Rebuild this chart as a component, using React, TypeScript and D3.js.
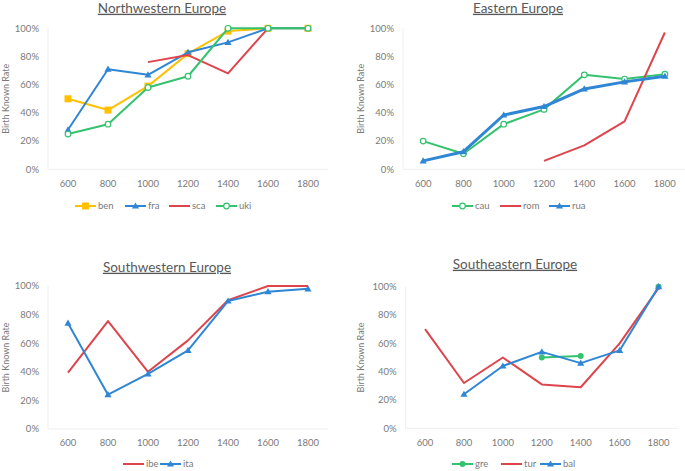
import React from "react";
import * as d3 from "d3";

const years = ["600", "800", "1000", "1200", "1400", "1600", "1800"];
const yTicks = [0, 20, 40, 60, 80, 100];

// Northwestern Europe
const ben = [50, 42, 59, 82, 98, 100, 100];
const fra = [28, 71, 67, 83, 90, 100, 100];
const sca = [null, null, 76, 81, 68, 100, null];
const uki = [25, 32, 58, 66, 100, 100, 100];
// Eastern Europe
const cau = [20, 11, 32, 42.5, 67, 64, 67.5];
const rom = [null, null, null, 6, 17, 34, 97];
const rua = [6, 12.5, 38.5, 44.5, 57, 62, 66];
// Southwestern Europe
const ibe = [39.5, 75.5, 40, 62, 90, 100, 100];
const ita = [74, 24, 38.5, 55, 89.5, 96, 98];
// Southeastern Europe
const gre = [null, null, null, 50, 51, null, 100];
const tur = [70, 32, 50, 31, 29, 60, 99];
const bal = [null, 24, 44, 54, 46, 55, 100];

const YELLOW = "#FFC000";
const BLUE = "#2E86D4";
const RED = "#DE444C";
const GREEN = "#34C26F";

type Series = { name: string; values: (number | null)[]; color: string; marker: string; width: number; lx: number };
type Panel = {
  title: string; left: number; right: number; top: number; bottom: number;
  titleX: number; titleY: number; yTitleX: number; legendY: number; series: Series[];
};

const panels: Panel[] = [
  {
    title: "Northwestern Europe", left: 48, right: 328, top: 28.3, bottom: 169.3,
    titleX: 162, titleY: 8, yTitleX: 6, legendY: 206,
    series: [
      { name: "ben", values: ben, color: YELLOW, marker: "square", width: 2, lx: 75 },
      { name: "fra", values: fra, color: BLUE, marker: "triangle", width: 2, lx: 125 },
      { name: "sca", values: sca, color: RED, marker: "none", width: 2, lx: 169 },
      { name: "uki", values: uki, color: GREEN, marker: "ocircle", width: 2, lx: 216 },
    ],
  },
  {
    title: "Eastern Europe", left: 403, right: 685, top: 28.3, bottom: 169.3,
    titleX: 518, titleY: 8, yTitleX: 361, legendY: 206,
    series: [
      { name: "cau", values: cau, color: GREEN, marker: "ocircle", width: 2, lx: 452 },
      { name: "rom", values: rom, color: RED, marker: "none", width: 2, lx: 500 },
      { name: "rua", values: rua, color: BLUE, marker: "triangle", width: 3, lx: 549 },
    ],
  },
  {
    title: "Southwestern Europe", left: 48, right: 328, top: 286, bottom: 429,
    titleX: 167, titleY: 267, yTitleX: 6, legendY: 464,
    series: [
      { name: "ibe", values: ibe, color: RED, marker: "none", width: 2, lx: 123 },
      { name: "ita", values: ita, color: BLUE, marker: "triangle", width: 2, lx: 160 },
    ],
  },
  {
    title: "Southeastern Europe", left: 405.6, right: 678, top: 286.7, bottom: 428.3,
    titleX: 515, titleY: 264, yTitleX: 361, legendY: 464,
    series: [
      { name: "gre", values: gre, color: GREEN, marker: "fcircle", width: 2, lx: 452 },
      { name: "tur", values: tur, color: RED, marker: "none", width: 2, lx: 501 },
      { name: "bal", values: bal, color: BLUE, marker: "triangle", width: 2, lx: 540 },
    ],
  },
];

const FONT = "Lato, 'Open Sans', sans-serif";
const TEXT = "#7a7a7a";

function Marker({ type, x, y, color }: { type: string; x: number; y: number; color: string }) {
  if (type === "square") return <rect x={x - 3.5} y={y - 3.5} width={7} height={7} fill={color} />;
  if (type === "triangle") {
    const p = d3.symbol(d3.symbolTriangle, 22)() as string;
    return <path d={p} transform={`translate(${x},${y + 0.5})`} fill={color} />;
  }
  if (type === "ocircle") return <circle cx={x} cy={y} r={2.8} fill="#fff" stroke={color} strokeWidth={1.2} />;
  if (type === "fcircle") return <circle cx={x} cy={y} r={3} fill={color} />;
  return null;
}

function ChartPanel({ p }: { p: Panel }) {
  const x = d3.scaleBand<string>().domain(years).range([p.left, p.right]);
  const y = d3.scaleLinear().domain([0, 100]).range([p.bottom, p.top]);
  const cx = (yr: string) => (x(yr) as number) + x.bandwidth() / 2;
  const line = d3
    .line<number | null>()
    .defined((d) => d !== null)
    .x((_, i) => cx(years[i]))
    .y((d) => y(d as number));
  const midY = (p.top + p.bottom) / 2;
  return (
    <g>
      <text x={p.titleX} y={p.titleY} dy="0.35em" textAnchor="middle" fontSize={13.5} fill="#595959"
        textDecoration="underline" fontFamily={FONT}>{p.title}</text>
      <line x1={p.left} x2={p.left} y1={p.top} y2={p.bottom} stroke="#eeeeee" />
      <line x1={p.left} x2={p.right} y1={p.bottom} y2={p.bottom} stroke="#eeeeee" />
      {yTicks.map((t) => (
        <text key={t} x={p.left - 9} y={y(t)} dy="0.35em" textAnchor="end" fontSize={9.5} fill={TEXT} fontFamily={FONT}>
          {t}%
        </text>
      ))}
      {years.map((yr) => (
        <text key={yr} x={cx(yr)} y={p.bottom + 14} dy="0.35em" textAnchor="middle" fontSize={9.5} fill={TEXT} fontFamily={FONT}>
          {yr}
        </text>
      ))}
      <text transform={`translate(${p.yTitleX},${midY}) rotate(-90)`} dy="0.35em" textAnchor="middle" fontSize={9}
        fill={TEXT} fontFamily={FONT}>Birth Known Rate</text>
      {p.series.map((s) => (
        <g key={s.name}>
          <path d={line(s.values) as string} fill="none" stroke={s.color} strokeWidth={s.width} strokeLinejoin="round" />
          {s.values.map((v, i) =>
            v === null ? null : <Marker key={i} type={s.marker} x={cx(years[i])} y={y(v)} color={s.color} />
          )}
        </g>
      ))}
      {p.series.map((s) => (
        <g key={"lg" + s.name}>
          <line x1={s.lx} x2={s.lx + 21} y1={p.legendY} y2={p.legendY} stroke={s.color} strokeWidth={2} />
          <Marker type={s.marker} x={s.lx + 10.5} y={p.legendY} color={s.color} />
          <text x={s.lx + 23} y={p.legendY} dy="0.35em" fontSize={9.5} fill={TEXT} fontFamily={FONT}>{s.name}</text>
        </g>
      ))}
    </g>
  );
}

export default function App() {
  return (
    <svg width={685} height={471} style={{ position: "absolute", left: 0, top: 0, background: "#fff" }}>
      <rect width={685} height={471} fill="#fff" />
      {panels.map((p) => (
        <ChartPanel key={p.title} p={p} />
      ))}
    </svg>
  );
}
